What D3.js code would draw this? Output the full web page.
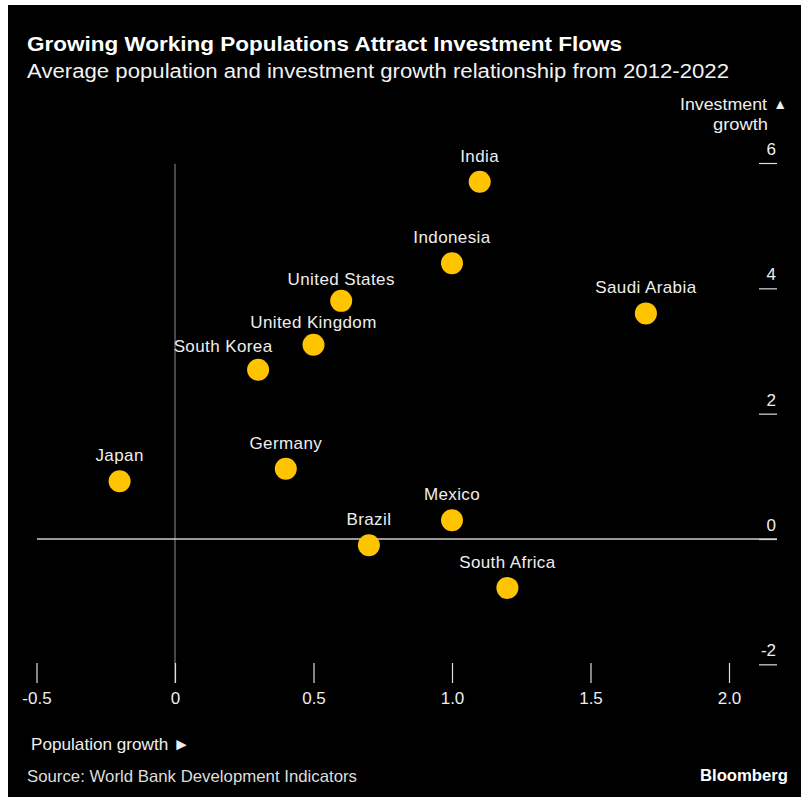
<!DOCTYPE html>
<html><head><meta charset="utf-8">
<script src="https://cdn.jsdelivr.net/npm/d3@7"></script>
<style>
html,body{margin:0;padding:0;background:#fff;}
svg{display:block;}
text{font-family:"Liberation Sans",Arial,Helvetica,sans-serif;}
</style></head>
<body>
<svg id="chart" width="801" height="797"></svg>
<script>
const countries = ["India","Indonesia","United States","United Kingdom","South Korea","Saudi Arabia","Japan","Germany","Mexico","Brazil","South Africa"];
const populationGrowth = [1.1, 1.0, 0.6, 0.5, 0.3, 1.7, -0.2, 0.4, 1.0, 0.7, 1.2];
const investmentGrowth = [5.7, 4.4, 3.8, 3.1, 2.7, 3.6, 0.92, 1.12, 0.3, -0.1, -0.78];
const xTicks = [-0.5, 0, 0.5, 1.0, 1.5, 2.0];
const xTickLabels = ["-0.5","0","0.5","1.0","1.5","2.0"];
const yTicks = [6, 4, 2, 0, -2];
const yTickLabels = ["6","4","2","0","-2"];

const svg = d3.select("#chart");
svg.append("rect").attr("x",8).attr("y",5).attr("width",793).attr("height",792).attr("fill","#000");

const x = d3.scaleLinear().domain([0, 2]).range([175, 729]);
const y = d3.scaleLinear().domain([0, 6]).range([539, 163]);

// title
svg.append("text").attr("x",27).attr("y",51).attr("fill","#fff")
  .style("font-size","21px").style("font-weight","bold")
  .attr("textLength",595).attr("lengthAdjust","spacingAndGlyphs")
  .text("Growing Working Populations Attract Investment Flows");
svg.append("text").attr("x",27).attr("y",78).attr("fill","#f2f2f2")
  .style("font-size","20px")
  .attr("textLength",702).attr("lengthAdjust","spacingAndGlyphs")
  .text("Average population and investment growth relationship from 2012-2022");

// vertical zero line
svg.append("line").attr("x1",x(0)).attr("x2",x(0)).attr("y1",y(5.99)).attr("y2",683)
  .attr("stroke","#777").attr("stroke-width",1.2);

// x axis ticks
const xAxis = d3.axisBottom(x).tickValues(xTicks).tickSize(20)
  .tickFormat((d,i)=>xTickLabels[i]);
const gx = svg.append("g").attr("transform","translate(0,663)").call(xAxis);
gx.select(".domain").remove();
gx.selectAll(".tick line").attr("stroke","#ddd").attr("stroke-width",1.2);
gx.selectAll(".tick text").attr("fill","#eee").attr("y",29)
  .style("font-size","17px").style("font-family","'Liberation Sans',Arial,sans-serif");

// y axis on right: short tick lines with label above
const yAxis = d3.axisRight(y).tickValues(yTicks).tickSize(18)
  .tickFormat((d,i)=>yTickLabels[i]);
const gy = svg.append("g").attr("transform","translate(759,0)").call(yAxis);
gy.select(".domain").remove();
gy.selectAll(".tick line").attr("stroke","#ddd").attr("stroke-width",1.2);
gy.selectAll(".tick text").attr("fill","#eee").attr("x",17).attr("dy","-0.5em")
  .attr("text-anchor","end").style("font-size","17px")
  .style("font-family","'Liberation Sans',Arial,sans-serif");

// horizontal zero line
svg.append("line").attr("x1",37).attr("x2",777).attr("y1",y(0)).attr("y2",y(0))
  .attr("stroke","#ccc").attr("stroke-width",1.3);

// axis titles
svg.append("text").attr("x",767).attr("y",110).attr("text-anchor","end").attr("fill","#eee")
  .style("font-size","17px").attr("textLength",87).attr("lengthAdjust","spacingAndGlyphs").text("Investment");
svg.append("text").attr("x",787).attr("y",109).attr("text-anchor","end").attr("fill","#eee")
  .style("font-size","14px").text("▲");
svg.append("text").attr("x",768).attr("y",130).attr("text-anchor","end").attr("fill","#eee")
  .style("font-size","17px").attr("textLength",55).attr("lengthAdjust","spacingAndGlyphs").text("growth");
svg.append("text").attr("x",31).attr("y",750).attr("fill","#eee")
  .style("font-size","17px").attr("textLength",159).attr("lengthAdjust","spacingAndGlyphs").text("Population growth ►");

// footer
svg.append("text").attr("x",27).attr("y",782).attr("fill","#ddd")
  .style("font-size","16.5px").attr("textLength",330).attr("lengthAdjust","spacingAndGlyphs")
  .text("Source: World Bank Development Indicators");
svg.append("text").attr("x",788).attr("y",781).attr("text-anchor","end").attr("fill","#fff")
  .style("font-size","16px").style("font-weight","bold")
  .attr("textLength",88).attr("lengthAdjust","spacingAndGlyphs").text("Bloomberg");

// points
const data = countries.map((c,i)=>({c, px:populationGrowth[i], iy:investmentGrowth[i]}));
const labelShift = {"South Korea":[-35,2], "United States":[0,4], "United Kingdom":[0,3]};
svg.append("g").selectAll("circle").data(data).join("circle")
  .attr("cx",d=>x(d.px)).attr("cy",d=>y(d.iy)).attr("r",11)
  .attr("fill","#ffc400");
svg.append("g").selectAll("text").data(data).join("text")
  .attr("x",d=>x(d.px)+((labelShift[d.c]||[0,0])[0]))
  .attr("y",d=>y(d.iy)-20+((labelShift[d.c]||[0,0])[1]))
  .attr("text-anchor","middle").attr("fill","#eee")
  .style("font-size","17px").style("letter-spacing","0.4px").text(d=>d.c);
</script>
</body></html>
